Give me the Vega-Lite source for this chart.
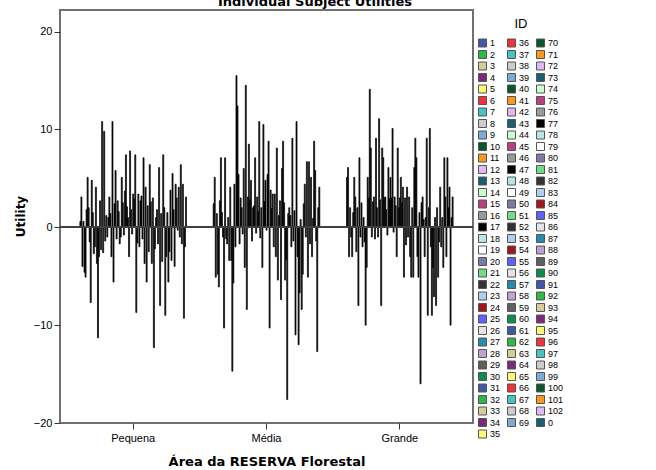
{
"$schema": "https://vega.github.io/schema/vega-lite/v6.json",
"autosize": {"type": "none"},
"width": 413, "height": 413,
"padding": {"left": 60, "top": 10, "right": 183, "bottom": 47},
"background": "white",
"title": {"text": "Individual Subject Utilities", "font": "DejaVu Sans", "fontSize": 13, "fontWeight": "bold", "color": "#000", "anchor": "middle", "frame": "group", "dx": 48.5, "baseline": "alphabetic", "offset": -8.5},
"data": {"values": [
{"a":"Pequena","id":"1","u":0.6},{"a":"Pequena","id":"2","u":3.1},{"a":"Pequena","id":"3","u":-4.0},{"a":"Pequena","id":"4","u":0.6},{"a":"Pequena","id":"5","u":-4.6},{"a":"Pequena","id":"6","u":-5.1},{"a":"Pequena","id":"7","u":1.8},{"a":"Pequena","id":"8","u":5.1},{"a":"Pequena","id":"9","u":2.0},{"a":"Pequena","id":"10","u":-1.5},
{"a":"Pequena","id":"11","u":-7.7},{"a":"Pequena","id":"12","u":4.8},{"a":"Pequena","id":"13","u":1.5},{"a":"Pequena","id":"14","u":-2.7},{"a":"Pequena","id":"15","u":-2.0},{"a":"Pequena","id":"16","u":4.1},{"a":"Pequena","id":"17","u":-3.7},{"a":"Pequena","id":"18","u":-11.3},{"a":"Pequena","id":"19","u":-3.0},{"a":"Pequena","id":"20","u":2.7},
{"a":"Pequena","id":"21","u":-2.3},{"a":"Pequena","id":"22","u":10.8},{"a":"Pequena","id":"23","u":-2.6},{"a":"Pequena","id":"24","u":9.8},{"a":"Pequena","id":"25","u":-1.4},{"a":"Pequena","id":"26","u":1.2},{"a":"Pequena","id":"27","u":-1.0},{"a":"Pequena","id":"28","u":1.0},{"a":"Pequena","id":"29","u":3.1},{"a":"Pequena","id":"30","u":1.4},
{"a":"Pequena","id":"31","u":-3.0},{"a":"Pequena","id":"32","u":10.8},{"a":"Pequena","id":"33","u":-5.6},{"a":"Pequena","id":"34","u":2.4},{"a":"Pequena","id":"35","u":5.8},{"a":"Pequena","id":"36","u":-1.2},{"a":"Pequena","id":"37","u":2.7},{"a":"Pequena","id":"38","u":1.6},{"a":"Pequena","id":"39","u":-1.7},{"a":"Pequena","id":"40","u":-1.0},
{"a":"Pequena","id":"41","u":5.1},{"a":"Pequena","id":"42","u":2.5},{"a":"Pequena","id":"43","u":-0.8},{"a":"Pequena","id":"44","u":3.7},{"a":"Pequena","id":"45","u":7.4},{"a":"Pequena","id":"46","u":2.1},{"a":"Pequena","id":"47","u":1.0},{"a":"Pequena","id":"48","u":-3.0},{"a":"Pequena","id":"49","u":7.8},{"a":"Pequena","id":"50","u":1.8},
{"a":"Pequena","id":"51","u":-0.7},{"a":"Pequena","id":"52","u":3.4},{"a":"Pequena","id":"53","u":2.9},{"a":"Pequena","id":"54","u":7.4},{"a":"Pequena","id":"55","u":-8.7},{"a":"Pequena","id":"56","u":-1.6},{"a":"Pequena","id":"57","u":3.4},{"a":"Pequena","id":"58","u":-2.0},{"a":"Pequena","id":"59","u":2.7},{"a":"Pequena","id":"60","u":3.2},
{"a":"Pequena","id":"61","u":-1.2},{"a":"Pequena","id":"62","u":7.1},{"a":"Pequena","id":"63","u":-3.7},{"a":"Pequena","id":"64","u":4.1},{"a":"Pequena","id":"65","u":-5.6},{"a":"Pequena","id":"66","u":2.2},{"a":"Pequena","id":"67","u":-2.5},{"a":"Pequena","id":"68","u":6.4},{"a":"Pequena","id":"69","u":2.6},{"a":"Pequena","id":"70","u":-3.7},
{"a":"Pequena","id":"71","u":3.0},{"a":"Pequena","id":"72","u":-12.3},{"a":"Pequena","id":"73","u":-2.2},{"a":"Pequena","id":"74","u":1.0},{"a":"Pequena","id":"75","u":1.8},{"a":"Pequena","id":"76","u":-1.7},{"a":"Pequena","id":"77","u":6.1},{"a":"Pequena","id":"78","u":-8.0},{"a":"Pequena","id":"79","u":1.4},{"a":"Pequena","id":"80","u":-3.5},
{"a":"Pequena","id":"81","u":7.4},{"a":"Pequena","id":"82","u":2.0},{"a":"Pequena","id":"83","u":-9.0},{"a":"Pequena","id":"84","u":-3.0},{"a":"Pequena","id":"85","u":1.5},{"a":"Pequena","id":"86","u":-5.6},{"a":"Pequena","id":"87","u":-2.5},{"a":"Pequena","id":"88","u":3.8},{"a":"Pequena","id":"89","u":-3.4},{"a":"Pequena","id":"90","u":5.5},
{"a":"Pequena","id":"91","u":1.8},{"a":"Pequena","id":"92","u":-4.0},{"a":"Pequena","id":"93","u":4.4},{"a":"Pequena","id":"94","u":3.0},{"a":"Pequena","id":"95","u":-0.3},{"a":"Pequena","id":"96","u":4.1},{"a":"Pequena","id":"97","u":-1.0},{"a":"Pequena","id":"98","u":6.4},{"a":"Pequena","id":"99","u":-1.7},{"a":"Pequena","id":"100","u":4.4},
{"a":"Pequena","id":"101","u":-9.3},{"a":"Pequena","id":"102","u":-2.0},{"a":"Pequena","id":"0","u":3.1},
{"a":"Média","id":"1","u":2.4},{"a":"Média","id":"2","u":5.1},{"a":"Média","id":"3","u":-5.1},{"a":"Média","id":"4","u":1.4},{"a":"Média","id":"5","u":-4.8},{"a":"Média","id":"6","u":-6.1},{"a":"Média","id":"7","u":2.7},{"a":"Média","id":"8","u":7.1},{"a":"Média","id":"9","u":1.5},{"a":"Média","id":"10","u":-1.0},
{"a":"Média","id":"11","u":-10.3},{"a":"Média","id":"12","u":7.1},{"a":"Média","id":"13","u":-1.2},{"a":"Média","id":"14","u":-1.7},{"a":"Média","id":"15","u":1.0},{"a":"Média","id":"16","u":-3.4},{"a":"Média","id":"17","u":4.1},{"a":"Média","id":"18","u":-3.4},{"a":"Média","id":"19","u":-14.7},{"a":"Média","id":"20","u":-5.7},
{"a":"Média","id":"21","u":4.4},{"a":"Média","id":"22","u":-2.0},{"a":"Média","id":"23","u":15.5},{"a":"Média","id":"24","u":12.4},{"a":"Média","id":"25","u":5.4},{"a":"Média","id":"26","u":-1.7},{"a":"Média","id":"27","u":3.0},{"a":"Média","id":"28","u":2.0},{"a":"Média","id":"29","u":-0.7},{"a":"Média","id":"30","u":6.0},
{"a":"Média","id":"31","u":-4.1},{"a":"Média","id":"32","u":14.5},{"a":"Média","id":"33","u":-8.4},{"a":"Média","id":"34","u":3.1},{"a":"Média","id":"35","u":8.5},{"a":"Média","id":"36","u":2.8},{"a":"Média","id":"37","u":4.8},{"a":"Média","id":"38","u":-1.4},{"a":"Média","id":"39","u":2.0},{"a":"Média","id":"40","u":2.2},
{"a":"Média","id":"41","u":7.1},{"a":"Média","id":"42","u":-0.6},{"a":"Média","id":"43","u":3.1},{"a":"Média","id":"44","u":1.6},{"a":"Média","id":"45","u":10.8},{"a":"Média","id":"46","u":-1.1},{"a":"Média","id":"47","u":2.0},{"a":"Média","id":"48","u":-4.1},{"a":"Média","id":"49","u":10.5},{"a":"Média","id":"50","u":2.6},
{"a":"Média","id":"51","u":4.8},{"a":"Média","id":"52","u":-0.3},{"a":"Média","id":"53","u":5.4},{"a":"Média","id":"54","u":8.8},{"a":"Média","id":"55","u":-10.3},{"a":"Média","id":"56","u":3.8},{"a":"Média","id":"57","u":1.9},{"a":"Média","id":"58","u":3.4},{"a":"Média","id":"59","u":-2.0},{"a":"Média","id":"60","u":3.4},
{"a":"Média","id":"61","u":-3.0},{"a":"Média","id":"62","u":8.1},{"a":"Média","id":"63","u":-5.4},{"a":"Média","id":"64","u":1.2},{"a":"Média","id":"65","u":2.7},{"a":"Média","id":"66","u":-7.4},{"a":"Média","id":"67","u":6.0},{"a":"Média","id":"68","u":8.8},{"a":"Média","id":"69","u":2.5},{"a":"Média","id":"70","u":-5.4},
{"a":"Média","id":"71","u":-3.3},{"a":"Média","id":"72","u":-17.6},{"a":"Média","id":"73","u":1.4},{"a":"Média","id":"74","u":2.0},{"a":"Média","id":"75","u":1.2},{"a":"Média","id":"76","u":-2.0},{"a":"Média","id":"77","u":9.1},{"a":"Média","id":"78","u":-1.4},{"a":"Média","id":"79","u":1.7},{"a":"Média","id":"80","u":-11.0},
{"a":"Média","id":"81","u":10.8},{"a":"Média","id":"82","u":-3.0},{"a":"Média","id":"83","u":-12.0},{"a":"Média","id":"84","u":-6.7},{"a":"Média","id":"85","u":0.8},{"a":"Média","id":"86","u":-8.4},{"a":"Média","id":"87","u":-4.8},{"a":"Média","id":"88","u":2.4},{"a":"Média","id":"89","u":4.4},{"a":"Média","id":"90","u":-1.0},
{"a":"Média","id":"91","u":6.7},{"a":"Média","id":"92","u":-5.1},{"a":"Média","id":"93","u":6.7},{"a":"Média","id":"94","u":-1.7},{"a":"Média","id":"95","u":5.1},{"a":"Média","id":"96","u":-3.0},{"a":"Média","id":"97","u":0.9},{"a":"Média","id":"98","u":8.8},{"a":"Média","id":"99","u":5.8},{"a":"Média","id":"100","u":-1.4},
{"a":"Média","id":"101","u":-12.7},{"a":"Média","id":"102","u":2.0},{"a":"Média","id":"0","u":4.1},
{"a":"Grande","id":"1","u":5.1},{"a":"Grande","id":"2","u":6.1},{"a":"Grande","id":"3","u":-3.0},{"a":"Grande","id":"4","u":2.0},{"a":"Grande","id":"5","u":-1.0},{"a":"Grande","id":"6","u":-3.0},{"a":"Grande","id":"7","u":1.5},{"a":"Grande","id":"8","u":5.1},{"a":"Grande","id":"9","u":3.1},{"a":"Grande","id":"10","u":-2.5},
{"a":"Grande","id":"11","u":2.0},{"a":"Grande","id":"12","u":-8.0},{"a":"Grande","id":"13","u":7.1},{"a":"Grande","id":"14","u":-1.0},{"a":"Grande","id":"15","u":2.5},{"a":"Grande","id":"16","u":-2.0},{"a":"Grande","id":"17","u":1.0},{"a":"Grande","id":"18","u":-1.5},{"a":"Grande","id":"19","u":-10.0},{"a":"Grande","id":"20","u":-4.1},
{"a":"Grande","id":"21","u":5.1},{"a":"Grande","id":"22","u":3.0},{"a":"Grande","id":"23","u":14.1},{"a":"Grande","id":"24","u":8.1},{"a":"Grande","id":"25","u":-1.0},{"a":"Grande","id":"26","u":2.6},{"a":"Grande","id":"27","u":3.1},{"a":"Grande","id":"28","u":-1.2},{"a":"Grande","id":"29","u":9.1},{"a":"Grande","id":"30","u":2.0},
{"a":"Grande","id":"31","u":-1.0},{"a":"Grande","id":"32","u":11.1},{"a":"Grande","id":"33","u":2.8},{"a":"Grande","id":"34","u":-8.0},{"a":"Grande","id":"35","u":8.1},{"a":"Grande","id":"36","u":7.1},{"a":"Grande","id":"37","u":3.0},{"a":"Grande","id":"38","u":3.1},{"a":"Grande","id":"39","u":1.8},{"a":"Grande","id":"40","u":-0.8},
{"a":"Grande","id":"41","u":6.1},{"a":"Grande","id":"42","u":2.9},{"a":"Grande","id":"43","u":5.1},{"a":"Grande","id":"44","u":3.0},{"a":"Grande","id":"45","u":10.1},{"a":"Grande","id":"46","u":-0.5},{"a":"Grande","id":"47","u":3.1},{"a":"Grande","id":"48","u":2.2},{"a":"Grande","id":"49","u":-3.0},{"a":"Grande","id":"50","u":8.1},
{"a":"Grande","id":"51","u":2.0},{"a":"Grande","id":"52","u":3.0},{"a":"Grande","id":"53","u":5.1},{"a":"Grande","id":"54","u":2.5},{"a":"Grande","id":"55","u":4.1},{"a":"Grande","id":"56","u":-5.1},{"a":"Grande","id":"57","u":3.0},{"a":"Grande","id":"58","u":-1.8},{"a":"Grande","id":"59","u":4.1},{"a":"Grande","id":"60","u":-1.0},
{"a":"Grande","id":"61","u":3.1},{"a":"Grande","id":"62","u":-3.0},{"a":"Grande","id":"63","u":-5.1},{"a":"Grande","id":"64","u":2.0},{"a":"Grande","id":"65","u":-5.1},{"a":"Grande","id":"66","u":6.1},{"a":"Grande","id":"67","u":9.1},{"a":"Grande","id":"68","u":7.1},{"a":"Grande","id":"69","u":-3.0},{"a":"Grande","id":"70","u":-5.1},
{"a":"Grande","id":"71","u":1.5},{"a":"Grande","id":"72","u":-16.0},{"a":"Grande","id":"73","u":2.5},{"a":"Grande","id":"74","u":3.1},{"a":"Grande","id":"75","u":0.8},{"a":"Grande","id":"76","u":-3.0},{"a":"Grande","id":"77","u":1.0},{"a":"Grande","id":"78","u":9.1},{"a":"Grande","id":"79","u":-9.0},{"a":"Grande","id":"80","u":2.0},
{"a":"Grande","id":"81","u":10.1},{"a":"Grande","id":"82","u":-2.0},{"a":"Grande","id":"83","u":-9.0},{"a":"Grande","id":"84","u":-4.1},{"a":"Grande","id":"85","u":-7.1},{"a":"Grande","id":"86","u":1.0},{"a":"Grande","id":"87","u":-8.0},{"a":"Grande","id":"88","u":2.0},{"a":"Grande","id":"89","u":-5.1},{"a":"Grande","id":"90","u":-1.5},
{"a":"Grande","id":"91","u":4.1},{"a":"Grande","id":"92","u":-2.0},{"a":"Grande","id":"93","u":1.0},{"a":"Grande","id":"94","u":-4.1},{"a":"Grande","id":"95","u":7.1},{"a":"Grande","id":"96","u":3.1},{"a":"Grande","id":"97","u":-3.0},{"a":"Grande","id":"98","u":7.1},{"a":"Grande","id":"99","u":2.0},{"a":"Grande","id":"100","u":4.1},
{"a":"Grande","id":"101","u":-10.0},{"a":"Grande","id":"102","u":1.0},{"a":"Grande","id":"0","u":3.1}
]},
"layer": [
{"mark": {"type": "bar", "color": "#111", "stroke": "#000", "strokeWidth": 0.7},
 "encoding": {
  "x": {"field": "a", "type": "nominal", "sort": ["Pequena","Média","Grande"], "title": "Área da RESERVA Florestal",
        "scale": {"paddingInner": 0.2, "paddingOuter": 0.149},
        "axis": {"domain": false, "grid": false, "tickSize": 6, "tickColor": "#333", "labelAngle": 0, "labelPadding": 3, "labelFont": "Liberation Sans", "labelFontSize": 11, "labelColor": "#000", "titleFont": "DejaVu Sans", "titleFontSize": 13, "titleFontWeight": "bold", "titleColor": "#000", "titleY": 38, "titleBaseline": "middle"}},
  "xOffset": {"field": "id", "type": "nominal",
        "scale": {"paddingInner": 0, "paddingOuter": 0, "domain": ["1","2","3","4","5","6","7","8","9","10","11","12","13","14","15","16","17","18","19","20","21","22","23","24","25","26","27","28","29","30","31","32","33","34","35","36","37","38","39","40","41","42","43","44","45","46","47","48","49","50","51","52","53","54","55","56","57","58","59","60","61","62","63","64","65","66","67","68","69","70","71","72","73","74","75","76","77","78","79","80","81","82","83","84","85","86","87","88","89","90","91","92","93","94","95","96","97","98","99","100","101","102","0"]}},
  "y": {"field": "u", "type": "quantitative", "title": "Utility",
        "scale": {"domain": [-20, 22.2], "nice": false, "zero": false},
        "axis": {"values": [-20,-10,0,10,20], "domain": false, "grid": false, "tickSize": 6, "tickColor": "#333", "labelPadding": 2, "labelFont": "Liberation Sans", "labelFontSize": 11, "labelColor": "#000", "titleFont": "DejaVu Sans", "titleFontSize": 12, "titleFontWeight": "bold", "titleColor": "#000", "titleX": -40, "titleY": 206, "titleAngle": 270, "titleBaseline": "middle", "titleAlign": "center"}}
 }},
{"mark": {"type": "rule", "color": "#404040", "strokeWidth": 1.5}, "encoding": {"y": {"datum": 0}}},
{"mark": {"type": "square", "opacity": 0},
 "encoding": {
  "color": {"field": "id", "type": "nominal", "title": "ID",
        "scale": {"domain": ["1","2","3","4","5","6","7","8","9","10","11","12","13","14","15","16","17","18","19","20","21","22","23","24","25","26","27","28","29","30","31","32","33","34","35","36","37","38","39","40","41","42","43","44","45","46","47","48","49","50","51","52","53","54","55","56","57","58","59","60","61","62","63","64","65","66","67","68","69","~","70","71","72","73","74","75","76","77","78","79","80","81","82","83","84","85","86","87","88","89","90","91","92","93","94","95","96","97","98","99","100","101","102","0"],
                  "range": ["#3E58AC","#2EB848","#D3CE97","#7C287D","#FBF873","#EF3338","#48C2C5","#CCCCCC","#7AAAD5","#0A562C","#F8981D","#DDBAF1","#1A5F76","#CCFFCC","#BB3F7F","#999999","#000000","#B6E7E8","#FFFFFF","#797AA7","#70DC84","#333333","#ACD0EE","#A21619","#5E61FF","#E4E4E4","#278BAC","#BFA1D2","#5F5F5F","#088F4B",
                            "#3E58AC","#2EB848","#D3CE97","#7C287D","#FBF873","#EF3338","#48C2C5","#CCCCCC","#7AAAD5","#0A562C","#F8981D","#DDBAF1","#1A5F76","#CCFFCC","#BB3F7F","#999999","#000000","#B6E7E8","#FFFFFF","#797AA7","#70DC84","#333333","#ACD0EE","#A21619","#5E61FF","#E4E4E4","#278BAC","#BFA1D2","#5F5F5F","#088F4B",
                            "#3E58AC","#2EB848","#D3CE97","#7C287D","#FBF873","#EF3338","#48C2C5","#CCCCCC","#7AAAD5","transparent","#0A562C","#F8981D","#DDBAF1","#1A5F76","#CCFFCC","#BB3F7F","#999999","#000000","#B6E7E8","#FFFFFF","#797AA7","#70DC84","#333333","#ACD0EE","#A21619","#5E61FF","#E4E4E4","#278BAC","#BFA1D2","#5F5F5F","#088F4B",
                            "#3E58AC","#2EB848","#D3CE97","#7C287D","#FBF873","#EF3338","#48C2C5","#CCCCCC","#7AAAD5","#0A562C","#F8981D","#DDBAF1","#1A5F76"]},
        "legend": {"orient": "none", "legendX": 418, "legendY": 8, "columns": 3, "symbolType": "square", "symbolSize": 64, "symbolStrokeColor": "#555", "symbolStrokeWidth": 1, "symbolOpacity": 1,
                   "labelExpr": "datum.value === '~' ? '' : datum.label",
                   "labelFont": "Liberation Sans", "labelFontSize": 9, "labelColor": "#000", "labelOffset": 3, "titleFont": "Liberation Sans", "titleFontSize": 13, "titleFontWeight": "normal", "titleColor": "#000", "titleAnchor": "middle", "titlePadding": 7, "rowPadding": 1.5, "clipHeight": 10, "columnPadding": 6, "symbolLimit": 200,
                   "encode": {"symbols": {"update": {"opacity": {"value": 1}, "strokeOpacity": {"signal": "datum.value === '~' ? 0 : 1"}}}}}}
 }}
],
"config": {"view": {"fill": "#F0F0F0", "stroke": "#707070", "strokeWidth": 2}}
}
